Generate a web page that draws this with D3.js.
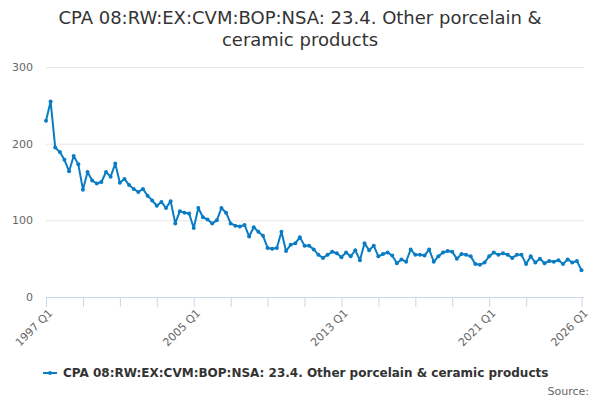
<!DOCTYPE html>
<meta charset="utf-8">
<script src="https://d3js.org/d3.v7.min.js"></script>
<style>
  body { margin: 0; background: #fff; }
  text { font-family: "DejaVu Sans", sans-serif; }
</style>
<svg id="chart" width="600" height="400"></svg>
<script>

// quarterly index values, 1997 Q1 .. 2026 Q1
var values = [
  230, 255, 195, 189, 179, 164, 184, 173,
  140, 163, 152, 148, 150, 163, 157, 174,
  149, 154, 146, 141, 137, 141, 132, 126,
  119, 124, 116, 125, 96, 112, 110, 109,
  90, 116, 104, 101, 96, 100, 116, 110,
  96, 93, 92, 94, 79, 91, 85, 80,
  64, 63, 64, 85, 60, 68, 70, 78,
  67, 67, 62, 55, 51, 55, 59, 57,
  52, 58, 53, 61, 48, 70, 61, 67,
  53, 56, 58, 54, 44, 49, 46, 62,
  55, 55, 54, 62, 46, 53, 58, 60,
  59, 50, 56, 55, 53, 43, 42, 45,
  53, 58, 55, 57, 55, 51, 55, 55,
  43, 53, 45, 50, 44, 47, 46, 48,
  43, 49, 45, 47, 35
];

var startYear = 1997;
var quarters = values.map(function(d, i) {
  return (startYear + Math.floor(i / 4)) + " Q" + (i % 4 + 1);
});

var tickQuarters = ["1997 Q1","1999 Q1","2001 Q1","2003 Q1","2005 Q1","2007 Q1","2009 Q1",
  "2011 Q1","2013 Q1","2015 Q1","2017 Q1","2019 Q1","2021 Q1","2023 Q1","2026 Q1"];
var tickLabels = ["1997 Q1", "2005 Q1", "2013 Q1", "2021 Q1", "2026 Q1"];
var yTicks = [0, 100, 200, 300];

var seriesName = "CPA 08:RW:EX:CVM:BOP:NSA: 23.4. Other porcelain & ceramic products";
var titleLines = ["CPA 08:RW:EX:CVM:BOP:NSA: 23.4. Other porcelain &", "ceramic products"];

var svg = d3.select("#chart");
var plotLeft = 46, plotRight = 584, plotTop = 67, plotBottom = 297;
var lineColor = "#0a7cc4";

var x = d3.scalePoint()
    .domain(quarters)
    .range([plotLeft, 581.5]);

var y = d3.scaleLinear()
    .domain([0, 300])
    .range([plotBottom, plotTop]);

// title
svg.append("g").selectAll("text")
  .data(titleLines)
  .enter().append("text")
    .attr("x", 300)
    .attr("y", function(d, i) { return 24 + i * 22; })
    .attr("text-anchor", "middle")
    .style("font-size", "18px")
    .style("fill", "#333")
    .text(function(d) { return d; });

// grid lines + y labels
var yAxis = d3.axisLeft(y)
    .tickValues(yTicks)
    .tickSize(-(plotRight - plotLeft))
    .tickPadding(13);

svg.append("g")
    .attr("transform", "translate(" + plotLeft + ",0)")
    .call(yAxis)
    .call(function(g) {
      g.select(".domain").remove();
      g.selectAll(".tick line").attr("stroke", "#e6e6e6");
      g.selectAll(".tick text").style("font-size", "11px").style("fill", "#666");
    });

// x axis
var xAxis = d3.axisBottom(x)
    .tickValues(tickQuarters)
    .tickSize(10)
    .tickFormat(function(d) { return tickLabels.indexOf(d) >= 0 ? d : ""; });

svg.append("g")
    .attr("transform", "translate(0," + plotBottom + ")")
    .call(xAxis)
    .call(function(g) {
      g.select(".domain").attr("d", "M" + plotLeft + ",0.5H" + plotRight).attr("stroke", "#ccd6eb");
      g.selectAll(".tick line").attr("stroke", "#ccd6eb");
      g.selectAll(".tick text")
        .attr("text-anchor", "end")
        .attr("transform", "translate(4,14) rotate(-45)")
        .attr("dy", "0.35em")
        .attr("y", 0)
        .style("font-size", "11px")
        .style("fill", "#666");
    });

// series line
var line = d3.line()
    .x(function(d, i) { return x(quarters[i]); })
    .y(function(d) { return y(d); });

svg.append("path")
    .datum(values)
    .attr("fill", "none")
    .attr("stroke", lineColor)
    .attr("stroke-width", 2)
    .attr("stroke-linejoin", "round")
    .attr("d", line);

svg.append("g").selectAll("circle")
  .data(values)
  .enter().append("circle")
    .attr("cx", function(d, i) { return x(quarters[i]); })
    .attr("cy", function(d) { return y(d); })
    .attr("r", 2)
    .attr("fill", lineColor);

// legend
var legend = svg.append("g").attr("transform", "translate(43,373)");
legend.append("line")
    .attr("x1", 0).attr("x2", 14)
    .attr("stroke", lineColor).attr("stroke-width", 2);
legend.append("circle")
    .attr("cx", 7).attr("r", 2).attr("fill", lineColor);
legend.append("text")
    .attr("x", 20)
    .attr("dy", "0.35em")
    .style("font-size", "12px")
    .style("font-weight", "bold")
    .style("fill", "#333")
    .text(seriesName);

svg.append("text")
    .attr("x", 589)
    .attr("y", 395)
    .attr("text-anchor", "end")
    .style("font-size", "11px")
    .style("fill", "#666")
    .text("Source:");

</script>
